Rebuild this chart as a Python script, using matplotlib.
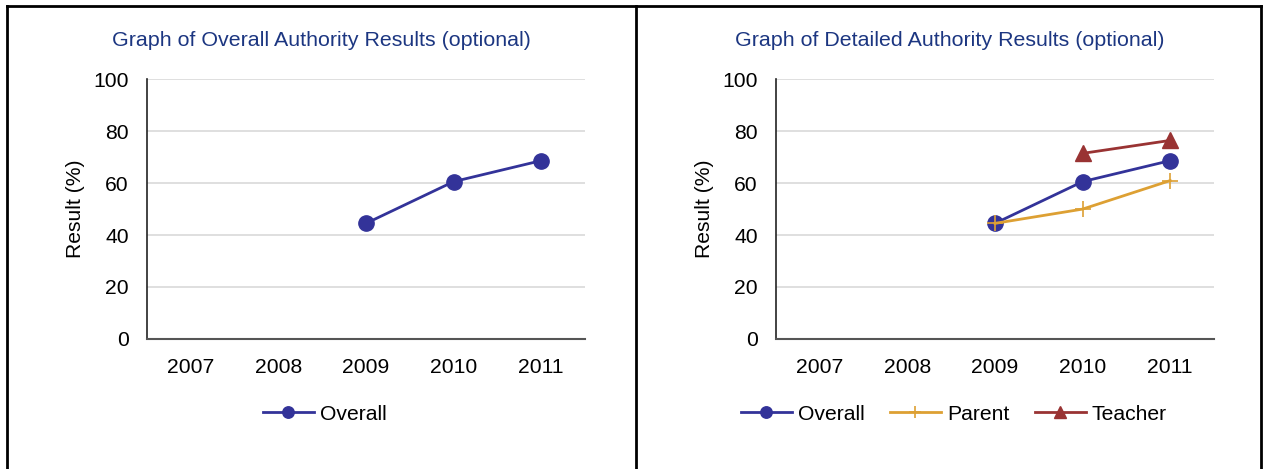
import numpy as np
import matplotlib.pyplot as plt
from matplotlib.lines import Line2D

plt.rcParams['font.family'] = ['Liberation Sans', 'DejaVu Sans']

years = ['2007', '2008', '2009', '2010', '2011']
overall = [np.nan, np.nan, 44.5, 60.6, 68.7]
parent = [np.nan, np.nan, 44.5, 50.0, 61.0]
teacher = [np.nan, np.nan, np.nan, 71.5, 76.5]
y_ticks = [0, 20, 40, 60, 80, 100]

C_OVERALL = '#333399'
C_PARENT = '#DDA033'
C_TEACHER = '#993333'
C_TITLE = '#1C3681'
FS = 15.2

W, H = 1265, 469
fig = plt.figure(figsize=(W / 100, H / 100), dpi=100)


def px(x, y):
    return x / W, 1 - y / H


def setup(ax, title, panel_mid):
    ax.set_xlim(-0.5, 4.5)
    ax.set_ylim(0, 100)
    ax.set_xticks(range(len(years)))
    ax.set_xticklabels(years)
    ax.set_yticks(y_ticks)
    ax.tick_params(length=0, labelsize=FS)
    ax.tick_params(axis='y', pad=13)
    ax.tick_params(axis='x', pad=14)
    ax.grid(axis='y', color='#D9D9D9', lw=1.2)
    ax.set_axisbelow(True)
    for s in ['top', 'right']:
        ax.spines[s].set_visible(False)
    ax.spines['left'].set_color('#222222')
    ax.spines['bottom'].set_color('#555555')
    ax.spines['left'].set_linewidth(1.2)
    ax.spines['bottom'].set_linewidth(1.5)
    ax.set_ylabel('Result (%)', fontsize=FS, labelpad=6)
    fig.text(panel_mid, px(0, 40)[1], title, ha='center', va='center',
             fontsize=FS + 0.2, color=C_TITLE)


x = np.arange(len(years))

# left: overall only
ax1 = fig.add_axes([147 / W, 1 - 338.7 / H, 438 / W, 259.2 / H])
setup(ax1, 'Graph of Overall Authority Results (optional)', px(321, 0)[0])
ax1.plot(x, overall, color=C_OVERALL, lw=2, marker='o', ms=11, label='Overall')
ax1.legend(loc='center', bbox_to_anchor=(px(325, 414)), bbox_transform=fig.transFigure,
           frameon=False, fontsize=FS, handlelength=2.4, handletextpad=0.3,
           markerscale=0.75)

# right: overall, parent, teacher
ax2 = fig.add_axes([776 / W, 1 - 338.7 / H, 438 / W, 259.2 / H])
setup(ax2, 'Graph of Detailed Authority Results (optional)', px(949.5, 0)[0])
ax2.plot(x, overall, color=C_OVERALL, lw=2, marker='o', ms=11, label='Overall')
ax2.plot(x, parent, color=C_PARENT, lw=2, marker='+', ms=12, mew=1.2, label='Parent')
ax2.plot(x, teacher, color=C_TEACHER, lw=2, marker='^', ms=11, label='Teacher')
ax2.legend(loc='center', bbox_to_anchor=(px(954, 414)), bbox_transform=fig.transFigure,
           frameon=False, fontsize=FS, ncol=3, handlelength=2.4, handletextpad=0.3,
           columnspacing=1.2, markerscale=0.75)

# frame around the two panels
lw = 2
for xs, ys in [([7, 1261], [6, 6]), ([7, 7], [6, 469]),
               ([636, 636], [6, 469]), ([1261, 1261], [6, 469])]:
    fx = [v / W for v in xs]
    fy = [1 - v / H for v in ys]
    fig.add_artist(Line2D(fx, fy, color='black', lw=lw))

fig.savefig('out.png', dpi=100)
